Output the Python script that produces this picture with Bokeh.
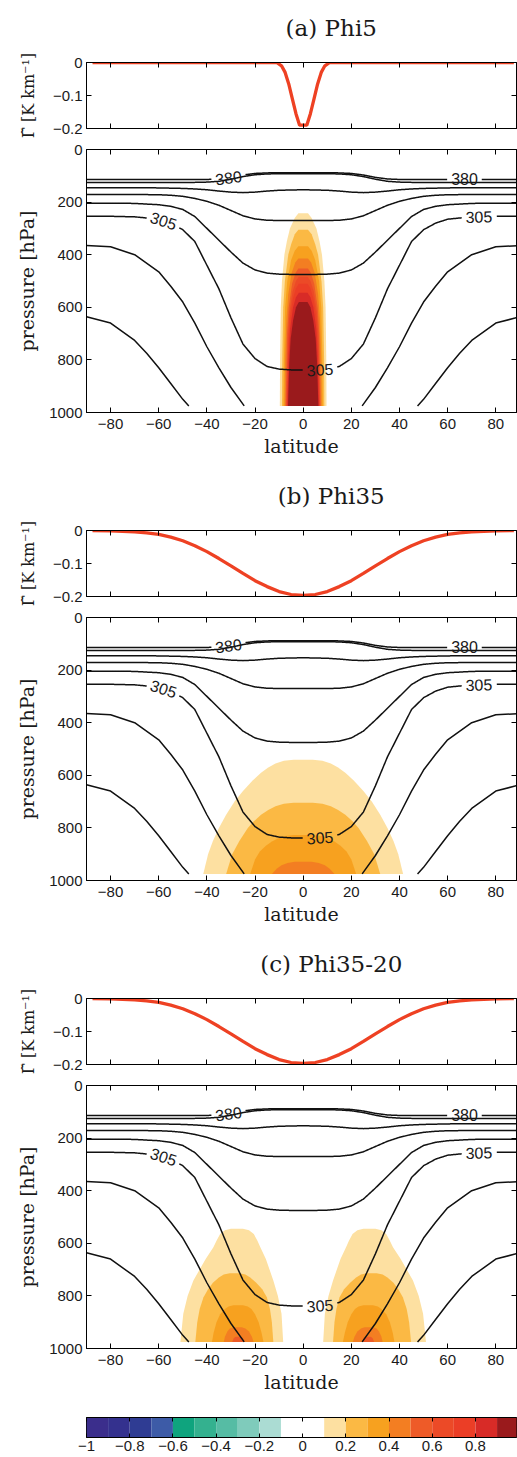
import math
import numpy as np
from bokeh.plotting import figure
from bokeh.models import Range1d, LinearAxis, FixedTicker, Label
from bokeh.core.properties import value
from bokeh.layouts import column
from bokeh.embed import file_html
from bokeh.resources import INLINE

# ---------------- data ----------------
PANEL_TITLES = ["(a) Phi5", "(b) Phi35", "(c) Phi35-20"]
GAMMA_LABEL = "\u0393\u0303 [K km\u207b\u00b9]"
LAT_TICKS = [-80, -60, -40, -20, 0, 20, 40, 60, 80]
LAT_TICK_LABELS = ["\u221280", "\u221260", "\u221240", "\u221220", "0", "20", "40", "60", "80"]
P_TICKS = [0, 200, 400, 600, 800, 1000]
P_TICK_LABELS = ["0", "200", "400", "600", "800", "1000"]
G_TICKS = [0, -0.1, -0.2]
G_TICK_LABELS = ["0", "\u22120.1", "\u22120.2"]

# Gamma-tilde profiles (K/km) vs latitude
GAMMA_A_LAT = [-87.5, -11, -9, -7.5, -6, -4.5, -3, -1.5, 1.5, 3, 4.5, 6, 7.5, 9, 11, 87.5]
GAMMA_A_VAL = [0, 0, -0.01, -0.03, -0.065, -0.11, -0.155, -0.19, -0.19, -0.155, -0.11, -0.065, -0.03, -0.01, 0, 0]
GAMMA_B_LAT = [-87.5, -80, -70, -65, -60, -55, -50, -45, -40, -35, -30, -25, -20, -15, -10, -5, 0,
               5, 10, 15, 20, 25, 30, 35, 40, 45, 50, 55, 60, 65, 70, 80, 87.5]
GAMMA_B_VAL = [0, -0.001, -0.004, -0.007, -0.012, -0.020, -0.031, -0.046, -0.064, -0.085, -0.107,
               -0.130, -0.152, -0.170, -0.185, -0.194, -0.197,
               -0.194, -0.185, -0.170, -0.152, -0.130, -0.107, -0.085, -0.064, -0.046, -0.031,
               -0.020, -0.012, -0.007, -0.004, -0.001, 0]
GAMMA_C_LAT = [-87.5, -80, -70, -65, -60, -55, -50, -45, -40, -35, -30, -25, -20, -15, -10, -5, 0,
               5, 10, 15, 20, 25, 30, 35, 40, 45, 50, 55, 60, 65, 70, 80, 87.5]
GAMMA_C_VAL = [0, -0.001, -0.004, -0.007, -0.012, -0.020, -0.031, -0.046, -0.064, -0.085, -0.107,
               -0.130, -0.152, -0.170, -0.185, -0.194, -0.197,
               -0.194, -0.185, -0.170, -0.152, -0.130, -0.107, -0.085, -0.064, -0.046, -0.031,
               -0.020, -0.012, -0.007, -0.004, -0.001, 0]

# Potential-temperature contours (southern half, pressure in hPa), mirrored about the equator
THETA_LAT = [-90, -80, -70, -60, -55, -50, -45, -40, -35, -30, -25, -20, -15, -10, -5, 0]
THETA_1 = [114, 114, 114, 114, 114, 114, 114, 114, 112, 106, 97, 91, 89, 88, 88, 88]
THETA_2 = [125, 125, 125, 125, 125, 125, 125, 124, 121, 113, 103, 96, 93, 92, 92, 92]
THETA_3 = [145, 145, 145, 146, 147, 148, 150, 153, 158, 162, 164, 162, 158, 155, 154, 153]
THETA_4 = [171, 171, 171, 172, 174, 178, 186, 197, 212, 232, 252, 264, 269, 270, 270, 270]
THETA_5 = [204, 204, 205, 210, 216, 228, 255, 300, 345, 390, 432, 458, 470, 474, 475, 475]
THETA_6 = [254, 254, 256, 265, 280, 305, 350, 440, 530, 640, 740, 795, 825, 835, 838, 838]
GROUND_7_LAT = [-90, -80, -70, -60, -55, -50, -45, -40, -35, -30, -24.5]
GROUND_7_P = [365, 370, 400, 465, 520, 580, 660, 750, 830, 905, 975]
GROUND_8_LAT = [-90, -80, -70, -65, -60, -55, -50, -47.5]
GROUND_8_P = [636, 660, 726, 775, 830, 890, 950, 975]
# (line index, latitude, text)
THETA_LABELS = [(0, -31, "380"), (0, 67, "380"), (5, -58, "305"), (5, 73, "305"), (5, 7, "305")]

# Colour scale
CB_EDGES = [-1.0, -0.9, -0.8, -0.7, -0.6, -0.5, -0.4, -0.3, -0.2, -0.1, 0.0,
            0.1, 0.2, 0.3, 0.4, 0.5, 0.6, 0.7, 0.8, 0.9, 1.0]
CB_COLORS = ["#3b2e8c", "#34318e", "#2f3c93", "#3d5ba7",
             "#0fa47e", "#34b18f", "#56bca4", "#7fcbbb", "#abdcd3",
             "#ffffff", "#ffffff",
             "#fde0a1", "#fbb944", "#f7a11f", "#f37e22", "#ee5b28", "#ec4a27", "#eb3e26", "#d82b27", "#9a1a1c"]
CB_TICKS = [-1, -0.8, -0.6, -0.4, -0.2, 0, 0.2, 0.4, 0.6, 0.8, 1]
CB_TICK_LABELS = ["\u22121", "\u22120.8", "\u22120.6", "\u22120.4", "\u22120.2", "0", "0.2", "0.4", "0.6", "0.8", "1"]

# Filled contours of the response: levels 0.1, 0.2, ...
# Panel (a): symmetric about the equator, half-width (deg) at pressures (hPa)
FILL_A_LEVELS = [0.1, 0.2, 0.3, 0.4, 0.5, 0.6, 0.7, 0.8, 0.9]
FILL_A_P = [
    [242, 260, 300, 350, 400, 500, 600, 800, 975],
    [305, 322, 360, 400, 500, 600, 800, 975],
    [368, 385, 420, 500, 600, 800, 975],
    [414, 430, 470, 550, 650, 800, 975],
    [452, 470, 510, 600, 700, 975],
    [484, 500, 540, 620, 720, 975],
    [510, 528, 565, 640, 740, 975],
    [545, 562, 600, 680, 780, 975],
    [580, 600, 650, 720, 820, 975],
]
FILL_A_HW = [
    [2.0, 3.5, 5.5, 6.8, 7.8, 8.8, 9.3, 9.6, 9.7],
    [2.0, 3.5, 5.0, 6.2, 7.6, 8.3, 8.7, 8.8],
    [2.0, 3.5, 5.0, 6.6, 7.5, 8.0, 8.2],
    [2.0, 3.3, 4.8, 6.2, 7.0, 7.5, 7.7],
    [2.0, 3.2, 4.6, 6.0, 6.7, 7.3],
    [1.8, 3.0, 4.4, 5.7, 6.4, 7.0],
    [1.8, 3.0, 4.2, 5.5, 6.2, 6.8],
    [1.8, 3.0, 4.2, 5.4, 6.0, 6.6],
    [1.8, 3.0, 4.2, 5.2, 5.8, 6.3],
]
# Panel (b): symmetric
FILL_B_LEVELS = [0.1, 0.2, 0.3, 0.4]
FILL_B_P = [
    [541, 545, 555, 570, 590, 620, 660, 700, 750, 800, 850, 900, 975],
    [704, 708, 718, 732, 750, 775, 800, 850, 900, 975],
    [827, 831, 840, 852, 868, 890, 920, 975],
    [929, 933, 942, 955, 975],
]
FILL_B_HW = [
    [4, 8, 11.5, 14.5, 17.5, 21, 25, 28.5, 32, 35, 37.5, 39.5, 41.5],
    [4, 8, 11.5, 14.5, 17.5, 20.5, 23, 26.5, 29.5, 32],
    [4, 7.5, 10.5, 13, 15.5, 18, 20, 22],
    [3.5, 6.5, 9, 11, 13],
]
# Panel (c): southern dome (west / east edges); northern dome is its mirror image
FILL_C_LEVELS = [0.1, 0.2, 0.3, 0.4, 0.5]
FILL_C_P = [
    [545, 550, 565, 590, 615, 660, 741, 800, 868, 975],
    [714, 719, 730, 750, 775, 805, 850, 900, 975],
    [836, 840, 850, 870, 900, 940, 975],
    [919, 924, 935, 955, 975],
    [955, 960, 975],
]
FILL_C_WEST = [
    [-30.0, -32.5, -34.5, -36.0, -37.3, -40.5, -45.6, -48.0, -49.8, -51.0],
    [-30.5, -33.0, -35.0, -37.5, -39.5, -41.4, -43.0, -44.0, -44.8],
    [-29.0, -31.0, -32.5, -34.5, -36.0, -37.2, -37.9],
    [-29.0, -30.5, -31.5, -32.5, -33.0],
    [-28.0, -28.8, -29.5],
]
FILL_C_EAST = [
    [-25.0, -22.5, -20.5, -19.0, -17.8, -15.5, -12.4, -10.5, -9.0, -8.3],
    [-26.5, -24.0, -22.0, -19.5, -17.0, -15.1, -13.8, -13.0, -12.4],
    [-25.0, -23.0, -21.5, -20.0, -18.5, -17.3, -16.5],
    [-25.5, -24.0, -22.5, -21.3, -20.6],
    [-25.8, -25.0, -24.5],
]

# ---------------- layout constants ----------------
X_RANGE = (-90, 88.6)
FRAME_W = 430
FRAME_H = 263
KX = FRAME_W / (X_RANGE[1] - X_RANGE[0])
KY = FRAME_H / 1000.0
SANS = "Liberation Sans"
SERIF = "DejaVu Serif"
TXT = "#1a1a1a"
TITLE_H = 40


def style_axis(ax, ticks, labels=None, show=True, tick_in=5):
    ax.ticker = FixedTicker(ticks=ticks, minor_ticks=[])
    ax.major_tick_in = tick_in
    ax.major_tick_out = 0
    ax.minor_tick_in = 0
    ax.minor_tick_out = 0
    ax.axis_line_color = "black"
    ax.major_tick_line_color = "black"
    if show:
        ax.major_label_text_font = SANS
        ax.major_label_text_font_size = "15px"
        ax.major_label_text_color = TXT
        if labels is not None:
            ax.major_label_overrides = {t: l for t, l in zip(ticks, labels)}
    else:
        ax.major_label_text_font_size = "0px"
        ax.major_label_standoff = 0
        ax.major_label_text_alpha = 0


def common(p):
    p.grid.visible = False
    p.outline_line_color = "black"
    p.background_fill_color = "white"
    p.border_fill_color = "white"


def title_fig(title):
    # canvas x range spans the whole 517 px width
    x0 = X_RANGE[0] - 86 / KX
    x1 = X_RANGE[1] + 1 / KX
    p = figure(width=517, height=TITLE_H, x_range=Range1d(x0, x1), y_range=Range1d(0, TITLE_H),
               toolbar_location=None, tools="", output_backend="svg",
               x_axis_type=None, y_axis_type=None, min_border=0)
    p.grid.visible = False
    p.outline_line_color = None
    p.text(x=[-3.5], y=[TITLE_H - 27], text=[title], text_align="center", text_baseline="middle",
           text_font=value(SERIF), text_font_size="23px", text_color=TXT)
    return p


def gamma_fig(lat, val):
    p = figure(width=517, height=102, x_range=Range1d(*X_RANGE), y_range=Range1d(-0.2, 0),
               toolbar_location=None, tools="", output_backend="svg",
               min_border_left=86, min_border_right=1, min_border_top=22, min_border_bottom=14)
    common(p)
    style_axis(p.xaxis[0], LAT_TICKS, show=False)
    style_axis(p.yaxis[0], G_TICKS, G_TICK_LABELS)
    p.yaxis[0].major_label_standoff = 4
    p.yaxis[0].axis_label = GAMMA_LABEL
    p.yaxis[0].axis_label_text_font = SERIF
    p.yaxis[0].axis_label_text_font_size = "16px"
    p.yaxis[0].axis_label_text_font_style = "normal"
    p.yaxis[0].axis_label_text_color = TXT
    p.yaxis[0].axis_label_standoff = 12
    top = LinearAxis()
    style_axis(top, LAT_TICKS, show=False)
    p.add_layout(top, "above")
    right = LinearAxis()
    style_axis(right, G_TICKS, show=False)
    p.add_layout(right, "right")
    p.line(lat, val, line_color="#ee4123", line_width=3.3)
    return p


def densify_and_cut(lat, pr, centers, radius=17.0):
    lat = np.asarray(lat, float)
    pr = np.asarray(pr, float)
    dl, dp = [], []
    for i in range(len(lat) - 1):
        t = np.linspace(0.0, 1.0, 24, endpoint=False)
        dl.append(lat[i] + t * (lat[i + 1] - lat[i]))
        dp.append(pr[i] + t * (pr[i + 1] - pr[i]))
    dl.append(lat[-1:])
    dp.append(pr[-1:])
    dl = np.concatenate(dl)
    dp = np.concatenate(dp)
    mask = np.zeros(len(dl), bool)
    for cl, cp in centers:
        mask |= np.hypot((dl - cl) * KX, (dp - cp) * KY) < radius
    dl[mask] = np.nan
    dp[mask] = np.nan
    return dl, dp


def full_line(pr_half):
    lat = list(THETA_LAT) + [-v for v in reversed(THETA_LAT[:-1])]
    pr = list(pr_half) + list(reversed(pr_half[:-1]))
    return lat, pr


def sym_polys(plist, hwlist, center=0.0):
    xs, ys = [], []
    for pr, hw in zip(plist, hwlist):
        x = [center + h for h in hw] + [center - h for h in reversed(hw)]
        y = list(pr) + list(reversed(pr))
        xs.append(x)
        ys.append(y)
    return xs, ys


def contour_fig(fill_xs, fill_ys, fill_colors):
    p = figure(width=517, height=326, x_range=Range1d(*X_RANGE), y_range=Range1d(1000, 0),
               toolbar_location=None, tools="", output_backend="svg",
               min_border_left=86, min_border_right=1, min_border_top=7, min_border_bottom=56)
    common(p)
    style_axis(p.xaxis[0], LAT_TICKS, LAT_TICK_LABELS)
    p.xaxis[0].major_label_standoff = 6
    p.xaxis[0].axis_label = "latitude"
    p.xaxis[0].axis_label_standoff = 3
    style_axis(p.yaxis[0], P_TICKS, P_TICK_LABELS)
    p.yaxis[0].major_label_standoff = 4
    p.yaxis[0].axis_label = "pressure [hPa]"
    p.yaxis[0].axis_label_standoff = 8
    for ax in (p.xaxis[0], p.yaxis[0]):
        ax.axis_label_text_font = SERIF
        ax.axis_label_text_font_size = "19px"
        ax.axis_label_text_font_style = "normal"
        ax.axis_label_text_color = TXT
    top = LinearAxis()
    style_axis(top, LAT_TICKS, show=False)
    p.add_layout(top, "above")
    right = LinearAxis()
    style_axis(right, P_TICKS, show=False)
    p.add_layout(right, "right")

    p.patches(xs=fill_xs, ys=fill_ys, fill_color=fill_colors, line_color=None)

    lines = [full_line(t) for t in (THETA_1, THETA_2, THETA_3, THETA_4, THETA_5, THETA_6)]
    centers = {i: [] for i in range(len(lines))}
    for idx, lat0, text in THETA_LABELS:
        lat, pr = lines[idx]
        p0 = float(np.interp(lat0, lat, pr))
        centers[idx].append((lat0, p0))
        pa = float(np.interp(lat0 - 2, lat, pr))
        pb = float(np.interp(lat0 + 2, lat, pr))
        ang = math.atan2(-(pb - pa) * KY, 4 * KX)
        p.add_layout(Label(x=lat0, y=p0, text=text, angle=ang, text_align="center",
                           text_baseline="middle", text_font=SANS, text_font_size="16px",
                           text_color=TXT))
    for i, (lat, pr) in enumerate(lines):
        dl, dp = densify_and_cut(lat, pr, centers[i])
        p.line(dl, dp, line_color="#111111", line_width=1.5)
    for glat, gp in ((GROUND_7_LAT, GROUND_7_P), (GROUND_8_LAT, GROUND_8_P)):
        p.line(glat, gp, line_color="#111111", line_width=1.5)
        p.line([-v for v in reversed(glat)], list(reversed(gp)), line_color="#111111", line_width=1.5)
    return p


def level_color(lv):
    return CB_COLORS[int(round((lv - CB_EDGES[0]) / 0.1))]


# fills per panel
fa_xs, fa_ys = sym_polys(FILL_A_P, FILL_A_HW)
fa_cols = [level_color(lv) for lv in FILL_A_LEVELS]
fb_xs, fb_ys = sym_polys(FILL_B_P, FILL_B_HW)
fb_cols = [level_color(lv) for lv in FILL_B_LEVELS]
fc_xs, fc_ys, fc_cols = [], [], []
for lv, pr, w, e in zip(FILL_C_LEVELS, FILL_C_P, FILL_C_WEST, FILL_C_EAST):
    y = list(pr) + list(reversed(pr))
    fc_xs.append(list(e) + list(reversed(w)))
    fc_ys.append(y)
    fc_cols.append(level_color(lv))
    fc_xs.append([-v for v in e] + [-v for v in reversed(w)])
    fc_ys.append(y)
    fc_cols.append(level_color(lv))

children = []
for title, (glat, gval), (fx, fy, fcol) in zip(
        PANEL_TITLES,
        [(GAMMA_A_LAT, GAMMA_A_VAL), (GAMMA_B_LAT, GAMMA_B_VAL), (GAMMA_C_LAT, GAMMA_C_VAL)],
        [(fa_xs, fa_ys, fa_cols), (fb_xs, fb_ys, fb_cols), (fc_xs, fc_ys, fc_cols)]):
    children.append(title_fig(title))
    children.append(gamma_fig(glat, gval))
    children.append(contour_fig(fx, fy, fcol))

# colour bar
cb = figure(width=517, height=53, x_range=Range1d(-1, 0.99), y_range=Range1d(0, 1),
            toolbar_location=None, tools="", output_backend="svg",
            min_border_left=86, min_border_right=1, min_border_top=13, min_border_bottom=20)
common(cb)
cb.yaxis.visible = False
cb.quad(left=CB_EDGES[:-1], right=CB_EDGES[1:], bottom=0, top=1, fill_color=CB_COLORS, line_color=None)
style_axis(cb.xaxis[0], CB_TICKS, CB_TICK_LABELS, tick_in=4)
cb.xaxis[0].major_label_standoff = 3
cbt = LinearAxis()
style_axis(cbt, CB_TICKS, show=False, tick_in=4)
cb.add_layout(cbt, "above")
children.append(cb)

layout = column(*children, spacing=0)
open("out.html", "w").write(file_html(layout, INLINE))
